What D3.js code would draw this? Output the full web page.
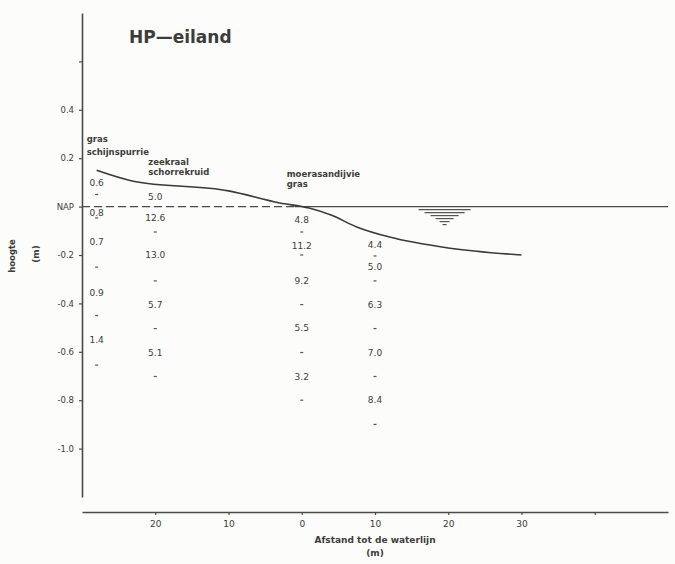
<!DOCTYPE html>
<html>
<head>
<meta charset="utf-8">
<script src="https://cdn.jsdelivr.net/npm/d3@7"></script>
<style>
  body { margin: 0; background: #fcfcfa; }
  text { font-family: "DejaVu Sans", sans-serif; fill: #3c3c3c; }
</style>
</head>
<body>
<div id="chart"></div>
<script>
// axis ticks
var xTicks = [-20, -10, 0, 10, 20, 30, 40];
var xTickLabels = ["20", "10", "0", "10", "20", "30", ""];
var yTicks = [0.6, 0.4, 0.2, 0, -0.2, -0.4, -0.6, -0.8, -1.0];
var yTickLabels = ["", "0.4", "0.2", "NAP", "-0.2", "-0.4", "-0.6", "-0.8", "-1.0"];

// ground profile (distance m, height m)
var profileDist = [-28, -23, -10, -3, 1, 4, 7.5, 12, 20, 30];
var profileHeight = [0.15, 0.105, 0.065, 0.015, -0.006, -0.035, -0.084, -0.126, -0.171, -0.2];

// NAP / water line
var napDashed = [-30, -1];
var napSolid = [-1, 50];
var waterSymbolDist = 19.5;

// sample columns
var colDist = [-28, -20, 0, 10];
var colSpecies = [["gras", "schijnspurrie"], ["zeekraal", "schorrekruid"], ["moerasandijvie", "gras"], []];

var col1Values = ["0.6", "0.8", "0.7", "0.9", "1.4"];
var col1Heights = [0.1, -0.025, -0.145, -0.355, -0.55];
var col1Marks = [0.05, -0.047, -0.25, -0.45, -0.655];

var col2Values = ["5.0", "12.6", "13.0", "5.7", "5.1"];
var col2Heights = [0.04, -0.047, -0.2, -0.405, -0.603];
var col2Marks = [-0.105, -0.307, -0.504, -0.702];

var col3Values = ["4.8", "11.2", "9.2", "5.5", "3.2"];
var col3Heights = [-0.055, -0.163, -0.307, -0.5, -0.702];
var col3Marks = [-0.105, -0.2, -0.405, -0.603, -0.8];

var col4Values = ["4.4", "5.0", "6.3", "7.0", "8.4"];
var col4Heights = [-0.16, -0.25, -0.405, -0.603, -0.8];
var col4Marks = [-0.204, -0.307, -0.504, -0.702, -0.9];

var width = 675, height = 564;
var ink = "#4a4a4a";

var svg = d3.select("#chart").append("svg")
  .attr("width", width).attr("height", height);

var x = d3.scaleLinear().domain([-30, 50]).range([82, 668]);
var y = d3.scaleLinear().domain([-1.2, 0.8]).range([497, 13]);
var axisY = 512;

// title
svg.append("text").attr("x", 129).attr("y", 43)
  .attr("font-family", "Liberation Sans").attr("font-size", 17).attr("font-weight", "bold")
  .text("HP\u2014eiland");

// Y axis
var yAxis = d3.axisLeft(y).tickValues(yTicks).tickSize(3).tickSizeOuter(0)
  .tickFormat(function (d, i) { return yTickLabels[i]; });
var gy = svg.append("g").attr("transform", "translate(" + x(-30) + ",0)").call(yAxis);
gy.select(".domain").attr("stroke", ink).attr("stroke-width", 1.6);
gy.selectAll(".tick line").attr("stroke", ink).attr("stroke-width", 1.2);
gy.selectAll(".tick text").attr("x", -8).attr("font-size", 8.5)
  .attr("font-family", "DejaVu Sans").attr("fill", "#3c3c3c");

// X axis
var xAxis = d3.axisBottom(x).tickValues(xTicks).tickSize(3).tickSizeOuter(0)
  .tickFormat(function (d, i) { return xTickLabels[i]; });
var gx = svg.append("g").attr("transform", "translate(0," + axisY + ")").call(xAxis);
gx.select(".domain").attr("stroke", ink).attr("stroke-width", 1.6);
gx.selectAll(".tick line").attr("stroke", ink).attr("stroke-width", 1.2);
gx.selectAll(".tick text").attr("y", 9).attr("font-size", 9)
  .attr("font-family", "DejaVu Sans").attr("fill", "#3c3c3c");

// axis titles
svg.append("text").attr("x", x(10)).attr("y", 543).attr("text-anchor", "middle")
  .attr("font-size", 9).attr("font-weight", "bold").text("Afstand tot de waterlijn");
svg.append("text").attr("x", x(10)).attr("y", 556).attr("text-anchor", "middle")
  .attr("font-size", 9).attr("font-weight", "bold").text("(m)");
svg.append("text").attr("transform", "translate(15,256) rotate(-90)").attr("text-anchor", "middle")
  .attr("font-size", 8.5).attr("font-weight", "bold").text("hoogte");
svg.append("text").attr("transform", "translate(39,254) rotate(-90)").attr("text-anchor", "middle")
  .attr("font-size", 9).attr("font-weight", "bold").text("(m)");

// NAP line: dashed over land, solid over water
svg.append("line")
  .attr("x1", x(napDashed[0])).attr("x2", x(napDashed[1]))
  .attr("y1", y(0)).attr("y2", y(0))
  .attr("stroke", ink).attr("stroke-width", 1.4).attr("stroke-dasharray", "8,4");
svg.append("line")
  .attr("x1", x(napSolid[0])).attr("x2", x(napSolid[1]))
  .attr("y1", y(0)).attr("y2", y(0))
  .attr("stroke", ink).attr("stroke-width", 1.4);

// water level symbol
var wsHalf = [26, 20, 14, 9, 5, 2];
svg.append("g").selectAll("line").data(wsHalf).join("line")
  .attr("x1", (d) => x(waterSymbolDist) - d)
  .attr("x2", (d) => x(waterSymbolDist) + d)
  .attr("y1", (d, i) => y(0) + 3 * (i + 1))
  .attr("y2", (d, i) => y(0) + 3 * (i + 1))
  .attr("stroke", "#555").attr("stroke-width", 1.2);

// ground profile
var profile = profileDist.map((d, i) => [d, profileHeight[i]]);
svg.append("path").datum(profile)
  .attr("fill", "none").attr("stroke", "#3a3a3a").attr("stroke-width", 1.6)
  .attr("d", d3.line().x((d) => x(d[0])).y((d) => y(d[1])).curve(d3.curveMonotoneX));

// columns
var columns = [
  { values: col1Values, heights: col1Heights, marks: col1Marks },
  { values: col2Values, heights: col2Heights, marks: col2Marks },
  { values: col3Values, heights: col3Heights, marks: col3Marks },
  { values: col4Values, heights: col4Heights, marks: col4Marks }
];
columns.forEach(function (c, ci) {
  var g = svg.append("g").attr("transform", "translate(" + x(colDist[ci]) + ",0)");
  g.selectAll(".val").data(c.values).join("text")
    .attr("class", "val").attr("text-anchor", "middle")
    .attr("y", (d, i) => y(c.heights[i])).attr("dy", "0.35em")
    .attr("font-size", 9).text((d) => d);
  g.selectAll(".mark").data(c.marks).join("line")
    .attr("class", "mark")
    .attr("x1", -1.5).attr("x2", 1.5)
    .attr("y1", (d) => y(d)).attr("y2", (d) => y(d))
    .attr("stroke", "#555").attr("stroke-width", 1.2);
});

// species labels above the columns
var speciesTop = [0.281, 0.184, 0.135];
var speciesShift = [-10, -7, -15];
var speciesStep = [13, 10, 10];
colSpecies.forEach(function (names, ci) {
  svg.append("g").selectAll("text").data(names).join("text")
    .attr("x", x(colDist[ci]) + (speciesShift[ci] || 0))
    .attr("y", (d, i) => y(speciesTop[ci]) + i * speciesStep[ci])
    .attr("dy", "0.35em")
    .attr("font-size", 8.5).attr("font-weight", "bold")
    .text((d) => d);
});
</script>
</body>
</html>
